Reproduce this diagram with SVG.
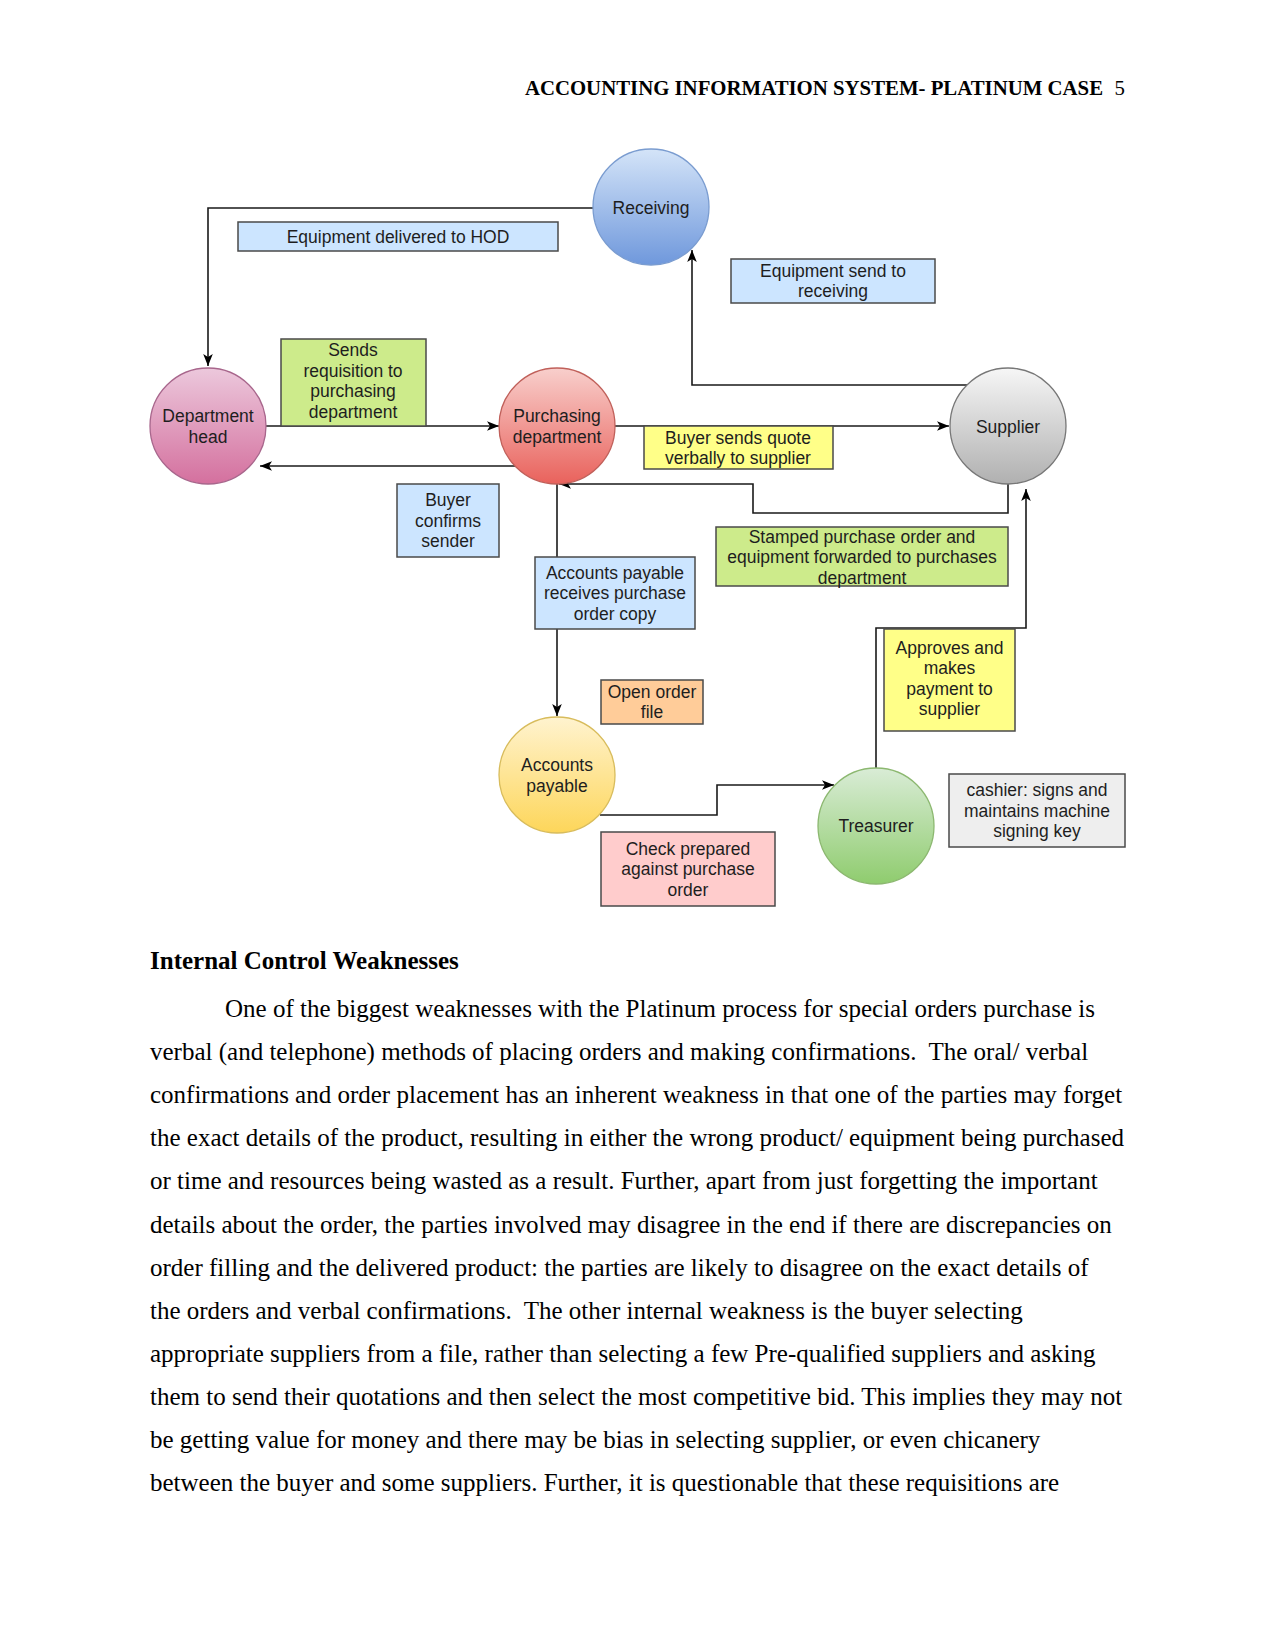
<svg xmlns="http://www.w3.org/2000/svg" width="1275" height="1650" viewBox="0 0 1275 1650">
<style>
.pg{font-family:"Liberation Serif","Times New Roman",serif;fill:#000;white-space:pre}
.hd{font-weight:bold}
.body{font-size:25px}
.dt{font-family:"Liberation Sans",Arial,sans-serif;font-size:17.5px;fill:#1e1e1e;text-anchor:middle;dominant-baseline:central}
.bx{stroke:#4a4a4a;stroke-width:1.5}
.cn{fill:none;stroke:#1a1a1a;stroke-width:1.6}
</style>
<defs>
<marker id="arr" viewBox="0 0 10 8" refX="10" refY="4" markerWidth="12" markerHeight="10" orient="auto" markerUnits="userSpaceOnUse">
<path d="M0,0 L10,4 L0,8 L2.5,4 Z" fill="#000"/>
</marker>
<linearGradient id="gBlue" x1="0" y1="0" x2="0" y2="1"><stop offset="0" stop-color="#d4e4f8"/><stop offset="1" stop-color="#6f98dc"/></linearGradient>
<linearGradient id="gPink" x1="0" y1="0" x2="0" y2="1"><stop offset="0" stop-color="#ecc8dc"/><stop offset="1" stop-color="#d4709e"/></linearGradient>
<linearGradient id="gRed" x1="0" y1="0" x2="0" y2="1"><stop offset="0" stop-color="#f8cfcc"/><stop offset="1" stop-color="#e9625c"/></linearGradient>
<linearGradient id="gGray" x1="0" y1="0" x2="0" y2="1"><stop offset="0" stop-color="#f6f6f6"/><stop offset="1" stop-color="#b0b0b0"/></linearGradient>
<linearGradient id="gYel" x1="0" y1="0" x2="0" y2="1"><stop offset="0" stop-color="#fff3cf"/><stop offset="1" stop-color="#fdd65a"/></linearGradient>
<linearGradient id="gGrn" x1="0" y1="0" x2="0" y2="1"><stop offset="0" stop-color="#d9ecd6"/><stop offset="1" stop-color="#8fcc6e"/></linearGradient>
</defs>

<rect width="1275" height="1650" fill="#fff"/>

<!-- page header -->
<g class="pg hd">
<text x="1103" y="94.5" font-size="20.8" text-anchor="end">ACCOUNTING INFORMATION SYSTEM- PLATINUM CASE</text>
<text x="1125" y="94.5" font-size="20.8" font-weight="normal" text-anchor="end">5</text>
</g>

<!-- connectors -->
<g id="connectors">
<path class="cn" d="M593,208 H208 V366" marker-end="url(#arr)"/>
<path class="cn" d="M266,426 H499" marker-end="url(#arr)"/>
<path class="cn" d="M515,466 H260" marker-end="url(#arr)"/>
<path class="cn" d="M615,426 H949" marker-end="url(#arr)"/>
<path class="cn" d="M967,385 H692 V250" marker-end="url(#arr)"/>
<path class="cn" d="M1008,484 V513 H753 V484 H559" marker-end="url(#arr)"/>
<path class="cn" d="M557,484 V716" marker-end="url(#arr)"/>
<path class="cn" d="M600,815 H717 V785 H834" marker-end="url(#arr)"/>
<path class="cn" d="M876,768 V628 H1026 V489" marker-end="url(#arr)"/>
</g>

<!-- circle nodes -->
<g id="receiving"><circle cx="651" cy="207" r="58" fill="url(#gBlue)" stroke="#7a9cd0" stroke-width="1.3"/><text class="dt" x="651" y="208">Receiving</text></g>
<g id="department-head"><circle cx="208" cy="426" r="58" fill="url(#gPink)" stroke="#a8668c" stroke-width="1.3"/><text class="dt" x="208" y="416">Department</text><text class="dt" x="208" y="436.5">head</text></g>
<g id="purchasing"><circle cx="557" cy="426" r="58" fill="url(#gRed)" stroke="#c0605a" stroke-width="1.3"/><text class="dt" x="557" y="416">Purchasing</text><text class="dt" x="557" y="436.5">department</text></g>
<g id="supplier"><circle cx="1008" cy="426" r="58" fill="url(#gGray)" stroke="#777" stroke-width="1.3"/><text class="dt" x="1008" y="427">Supplier</text></g>
<g id="accounts-payable"><circle cx="557" cy="775" r="58" fill="url(#gYel)" stroke="#d8bc5c" stroke-width="1.3"/><text class="dt" x="557" y="765">Accounts</text><text class="dt" x="557" y="785.5">payable</text></g>
<g id="treasurer"><circle cx="876" cy="826" r="58" fill="url(#gGrn)" stroke="#8cb870" stroke-width="1.3"/><text class="dt" x="876" y="826">Treasurer</text></g>

<!-- label boxes -->
<g id="lbl-delivered"><rect class="bx" x="238" y="222" width="320" height="29" fill="#cce5ff"/><text class="dt" x="398" y="237">Equipment delivered to HOD</text></g>
<g id="lbl-send-receiving"><rect class="bx" x="731" y="259" width="204" height="44" fill="#cce5ff"/><text class="dt" x="833" y="270.5">Equipment send to</text><text class="dt" x="833" y="291">receiving</text></g>
<g id="lbl-requisition"><rect class="bx" x="281" y="339" width="145" height="87" fill="#cdeb8b"/><text class="dt" x="353" y="350">Sends</text><text class="dt" x="353" y="370.5">requisition to</text><text class="dt" x="353" y="391">purchasing</text><text class="dt" x="353" y="411.5">department</text></g>
<g id="lbl-quote"><rect class="bx" x="644" y="426" width="189" height="43" fill="#ffff88"/><text class="dt" x="738" y="437.5">Buyer sends quote</text><text class="dt" x="738" y="458">verbally to supplier</text></g>
<g id="lbl-confirms"><rect class="bx" x="397" y="484" width="102" height="73" fill="#cce5ff"/><text class="dt" x="448" y="500">Buyer</text><text class="dt" x="448" y="520.5">confirms</text><text class="dt" x="448" y="541">sender</text></g>
<g id="lbl-ap-copy"><rect class="bx" x="535" y="557" width="160" height="72" fill="#cce5ff"/><text class="dt" x="615" y="572.5">Accounts payable</text><text class="dt" x="615" y="593">receives purchase</text><text class="dt" x="615" y="613.5">order copy</text></g>
<g id="lbl-stamped"><rect class="bx" x="716" y="527" width="292" height="59" fill="#cdeb8b"/><text class="dt" x="862" y="536.5">Stamped purchase order and</text><text class="dt" x="862" y="557">equipment forwarded to purchases</text><text class="dt" x="862" y="577.5">department</text></g>
<g id="lbl-approves"><rect class="bx" x="884" y="629" width="131" height="102" fill="#ffff88"/><text class="dt" x="949.5" y="647.5">Approves and</text><text class="dt" x="949.5" y="668">makes</text><text class="dt" x="949.5" y="688.5">payment to</text><text class="dt" x="949.5" y="709">supplier</text></g>
<g id="lbl-open-order"><rect class="bx" x="601" y="680" width="102" height="44" fill="#ffcc99"/><text class="dt" x="652" y="691.5">Open order</text><text class="dt" x="652" y="712">file</text></g>
<g id="lbl-check"><rect class="bx" x="601" y="832" width="174" height="74" fill="#ffcccc"/><text class="dt" x="688" y="848.5">Check prepared</text><text class="dt" x="688" y="869">against purchase</text><text class="dt" x="688" y="889.5">order</text></g>
<g id="lbl-cashier"><rect class="bx" x="949" y="774" width="176" height="73" fill="#eeeeee"/><text class="dt" x="1037" y="790">cashier: signs and</text><text class="dt" x="1037" y="810.5">maintains machine</text><text class="dt" x="1037" y="831">signing key</text></g>

<!-- body text -->
<g class="pg body">
<text x="150" y="969" font-weight="bold">Internal Control Weaknesses</text>
<text x="225" y="1017">One of the biggest weaknesses with the Platinum process for special orders purchase is</text>
<text x="150" y="1060.1" xml:space="preserve">verbal (and telephone) methods of placing orders and making confirmations.  The oral/ verbal</text>
<text x="150" y="1103.2">confirmations and order placement has an inherent weakness in that one of the parties may forget</text>
<text x="150" y="1146.3">the exact details of the product, resulting in either the wrong product/ equipment being purchased</text>
<text x="150" y="1189.4">or time and resources being wasted as a result. Further, apart from just forgetting the important</text>
<text x="150" y="1232.5">details about the order, the parties involved may disagree in the end if there are discrepancies on</text>
<text x="150" y="1275.6">order filling and the delivered product: the parties are likely to disagree on the exact details of</text>
<text x="150" y="1318.7" xml:space="preserve">the orders and verbal confirmations.  The other internal weakness is the buyer selecting</text>
<text x="150" y="1361.8">appropriate suppliers from a file, rather than selecting a few Pre-qualified suppliers and asking</text>
<text x="150" y="1404.9">them to send their quotations and then select the most competitive bid. This implies they may not</text>
<text x="150" y="1448">be getting value for money and there may be bias in selecting supplier, or even chicanery</text>
<text x="150" y="1491.1">between the buyer and some suppliers. Further, it is questionable that these requisitions are</text>
</g>
</svg>
